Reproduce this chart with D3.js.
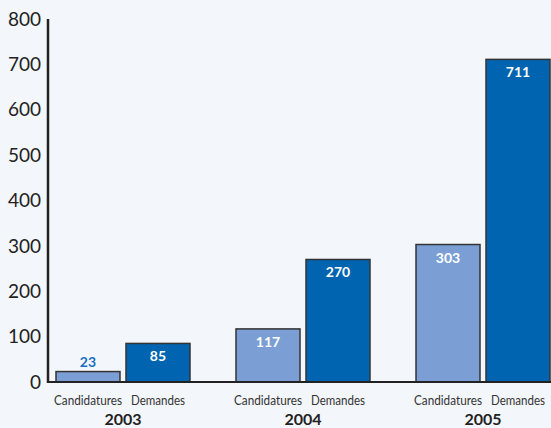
<!DOCTYPE html>
<html>
<head>
    <meta charset="utf-8">
    <title>Candidatures et demandes</title>
    <script src="https://cdn.jsdelivr.net/npm/d3@7"></script>
    <style>
        body { margin: 0; background: #f3f6fb; }
        text { font-family: "Lato", "Open Sans", sans-serif; }
    </style>
</head>
<body>
    <script>
        var years = ['2003', '2004', '2005'];
        var series = ['Candidatures', 'Demandes'];
        var candidatures = [23, 117, 303];
        var demandes = [85, 270, 711];
        var yTicks = [0, 100, 200, 300, 400, 500, 600, 700, 800];

        var colors = {Candidatures: '#7b9fd4', Demandes: '#0064b0'};
        var labelWidths = {Candidatures: 68, Demandes: 54};

        var width = 551;
        var height = 428;

        var svg = d3.select('body').append('svg')
            .attr('width', width)
            .attr('height', height);

        var yScale = d3.scaleLinear()
            .domain([0, 800])
            .range([382, 19]);

        var xYear = d3.scaleBand()
            .domain(years)
            .range([56, 550])
            .paddingInner(0.2556)
            .paddingOuter(0);

        var xSeries = d3.scaleBand()
            .domain(series)
            .range([0, xYear.bandwidth()])
            .paddingInner(0.0857)
            .paddingOuter(0);

        // y axis labels
        svg.append('g').selectAll('text')
            .data(yTicks)
            .enter().append('text')
            .attr('x', 41)
            .attr('y', function(d) { return yScale(d); })
            .attr('dy', '0.35em')
            .attr('text-anchor', 'end')
            .attr('font-size', 19)
            .attr('fill', '#222')
            .text(function(d) { return d; });

        var rows = [];
        years.forEach(function(y, i) {
            rows.push({year: y, s: 'Candidatures', v: candidatures[i]});
            rows.push({year: y, s: 'Demandes', v: demandes[i]});
        });

        var bars = svg.append('g');
        bars.selectAll('rect')
            .data(rows)
            .enter().append('rect')
            .attr('x', function(d) { return xYear(d.year) + xSeries(d.s); })
            .attr('y', function(d) { return yScale(d.v); })
            .attr('width', xSeries.bandwidth())
            .attr('height', function(d) { return yScale(0) - yScale(d.v); })
            .attr('fill', function(d) { return colors[d.s]; })
            .attr('stroke', '#333')
            .attr('stroke-width', 1.5);

        // value labels: inside the bar, above it when the bar is too short
        bars.selectAll('text.val')
            .data(rows)
            .enter().append('text')
            .attr('class', 'val')
            .attr('x', function(d) { return xYear(d.year) + xSeries(d.s) + xSeries.bandwidth() / 2; })
            .attr('y', function(d) {
                var top = yScale(d.v);
                return (yScale(0) - top) < 25 ? top - 5 : top + 18;
            })
            .attr('text-anchor', 'middle')
            .attr('font-size', 14)
            .attr('font-weight', 'bold')
            .attr('fill', function(d) { return (yScale(0) - yScale(d.v)) < 25 ? '#1a6fc0' : '#fff'; })
            .text(function(d) { return d.v; });

        // axes lines
        svg.append('line')
            .attr('x1', 48).attr('x2', 48)
            .attr('y1', yScale(800)).attr('y2', yScale(0) + 1)
            .attr('stroke', '#222').attr('stroke-width', 2.5);
        svg.append('line')
            .attr('x1', 47).attr('x2', width)
            .attr('y1', yScale(0)).attr('y2', yScale(0))
            .attr('stroke', '#222').attr('stroke-width', 2);

        // category labels (narrow face in the original, so squeeze a little)
        svg.append('g').selectAll('text')
            .data(rows)
            .enter().append('text')
            .attr('x', function(d) { return Math.min(xYear(d.year) + xSeries(d.s) + xSeries.bandwidth() / 2, width - 2 - labelWidths[d.s] / 2); })
            .attr('y', 405)
            .attr('text-anchor', 'middle')
            .attr('font-size', 14)
            .attr('textLength', function(d) { return labelWidths[d.s]; })
            .attr('lengthAdjust', 'spacingAndGlyphs')
            .attr('fill', '#333')
            .text(function(d) { return d.s; });

        svg.append('g').selectAll('text')
            .data(years)
            .enter().append('text')
            .attr('x', function(d) { return xYear(d) + xYear.bandwidth() / 2; })
            .attr('y', 425)
            .attr('text-anchor', 'middle')
            .attr('font-size', 16)
            .attr('font-weight', 'bold')
            .attr('fill', '#222')
            .text(function(d) { return d; });
    </script>
</body>
</html>
